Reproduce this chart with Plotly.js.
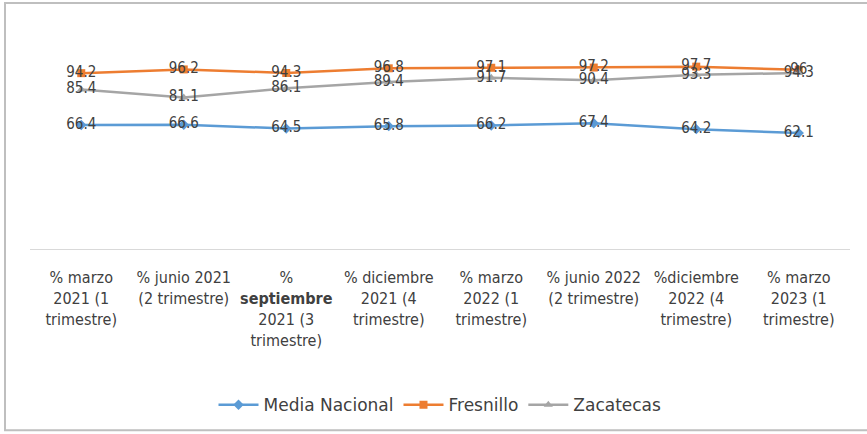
<!DOCTYPE html>
<html>
<head>
<meta charset="utf-8">
<script src="https://cdn.plot.ly/plotly-3.0.1.min.js"></script>
<style>html,body{margin:0;padding:0;background:#fff;}#chart{width:867px;height:434px;}</style>
</head>
<body>
<div id="chart"></div>
<script>
const categories = ["% marzo<br>2021 (1<br>trimestre)", "% junio 2021<br>(2 trimestre)", "%<br><b>septiembre</b><br>2021 (3<br>trimestre)", "% diciembre<br>2021 (4<br>trimestre)", "% marzo<br>2022 (1<br>trimestre)", "% junio 2022<br>(2 trimestre)", "%diciembre<br>2022 (4<br>trimestre)", "% marzo<br>2023 (1<br>trimestre)"];
const mediaNacional = [66.4, 66.6, 64.5, 65.8, 66.2, 67.4, 64.2, 62.1];
const fresnillo = [94.2, 96.2, 94.3, 96.8, 97.1, 97.2, 97.7, 96];
const zacatecas = [85.4, 81.1, 86.1, 89.4, 91.7, 90.4, 93.3, 94.3];

const idx = categories.map((c, i) => i);
const font = "'DejaVu Sans Condensed', Arial, sans-serif";
const legendFont = "'DejaVu Sans', Arial, sans-serif";

function series(name, y, color, symbol, size) {
  return {
    type: 'scatter', mode: 'lines+markers+text', name: name,
    x: idx, y: y,
    text: y.map(v => String(v)),
    textposition: 'middle center',
    textfont: {family: font, size: 15, color: '#404040'},
    line: {color: color, width: 2.5},
    marker: {color: color, symbol: symbol, size: size},
    cliponaxis: false
  };
}

const data = [
  series('Media Nacional', mediaNacional, '#5B9BD5', 'diamond', 8),
  series('Fresnillo', fresnillo, '#ED7D31', 'square', 8),
  series('Zacatecas', zacatecas, '#A5A5A5', 'triangle-up', 8)
];

const layout = {
  width: 867, height: 434,
  margin: {l: 30, r: 17, t: 25, b: 184},
  paper_bgcolor: '#fff', plot_bgcolor: '#fff',
  showlegend: true,
  legend: {orientation: 'h', x: 0.5, xanchor: 'center', y: -0.69, yanchor: 'middle',
           font: {family: legendFont, size: 17, color: '#404040'}, itemwidth: 40},
  xaxis: {
    range: [-0.5, categories.length - 0.5],
    tickmode: 'array', tickvals: idx, ticktext: categories,
    showline: true, linecolor: '#D9D9D9', linewidth: 1,
    showgrid: false, zeroline: false, ticks: '',
    tickfont: {family: font, size: 16, color: '#404040'},
    tickangle: 0, ticklabelstandoff: 14
  },
  yaxis: {range: [0, 120], showgrid: false, zeroline: false, showticklabels: false, showline: false},
  shapes: [{type: 'rect', xref: 'paper', yref: 'paper',
            x0: -25/820, x1: 1.03, y0: -182/225, y1: 1 + 22/225,
            line: {color: '#BFBFBF', width: 2}, layer: 'below'}]
};

Plotly.newPlot('chart', data, layout, {displayModeBar: false, staticPlot: true});
</script>
</body>
</html>
